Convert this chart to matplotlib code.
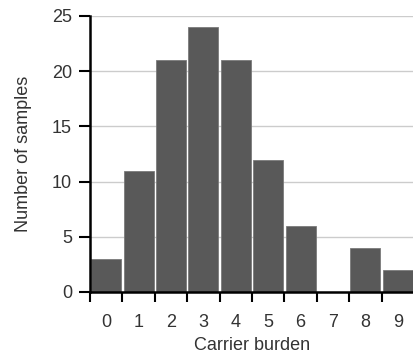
import matplotlib
matplotlib.use("Agg")
import matplotlib.pyplot as plt
import numpy as np

categories = ["0", "1", "2", "3", "4", "5", "6", "7", "8", "9"]
counts = [3, 11, 21, 24, 21, 12, 6, 0, 4, 2]
y_ticks = [0, 5, 10, 15, 20, 25]

plt.rcParams['font.family'] = ['Liberation Sans', 'DejaVu Sans']
txt = '#333333'
fs = 13

fig = plt.figure(figsize=(4.14, 3.56), dpi=100)
ax = fig.add_axes([90/414, 1-292/356, (414-90)/414, (292-16)/356])
x = np.arange(len(categories))
ax.set_axisbelow(True)
ax.yaxis.grid(True, color='#cccccc', linewidth=1)
ax.bar(x, counts, width=0.93, color='#595959', edgecolor='#7a7a7a', linewidth=0.6, zorder=2)
ax.set_xlim(-0.5, len(categories) - 0.5)
ax.set_ylim(0, 25)
ax.set_xticks(x)
ax.set_xticklabels(categories)
ax.set_xticks(np.arange(-0.5, len(categories) - 0.5, 1), minor=True)
ax.tick_params(axis='x', which='major', length=0, pad=16, labelsize=fs, labelcolor=txt)
ax.tick_params(axis='x', which='minor', length=7, width=1.5, color='black', direction='out')
ax.set_yticks(y_ticks)
ax.tick_params(axis='y', length=8, width=1.5, color='black', pad=5, labelsize=fs, labelcolor=txt)
for s in ['top', 'right']:
    ax.spines[s].set_visible(False)
for s in ['left', 'bottom']:
    ax.spines[s].set_linewidth(1.8)
    ax.spines[s].set_color('black')
ax.set_xlabel('Carrier burden', fontsize=fs, color=txt, labelpad=4)
ax.set_ylabel('Number of samples', fontsize=fs, color=txt, labelpad=14)
fig.savefig('out.png', dpi=100)
